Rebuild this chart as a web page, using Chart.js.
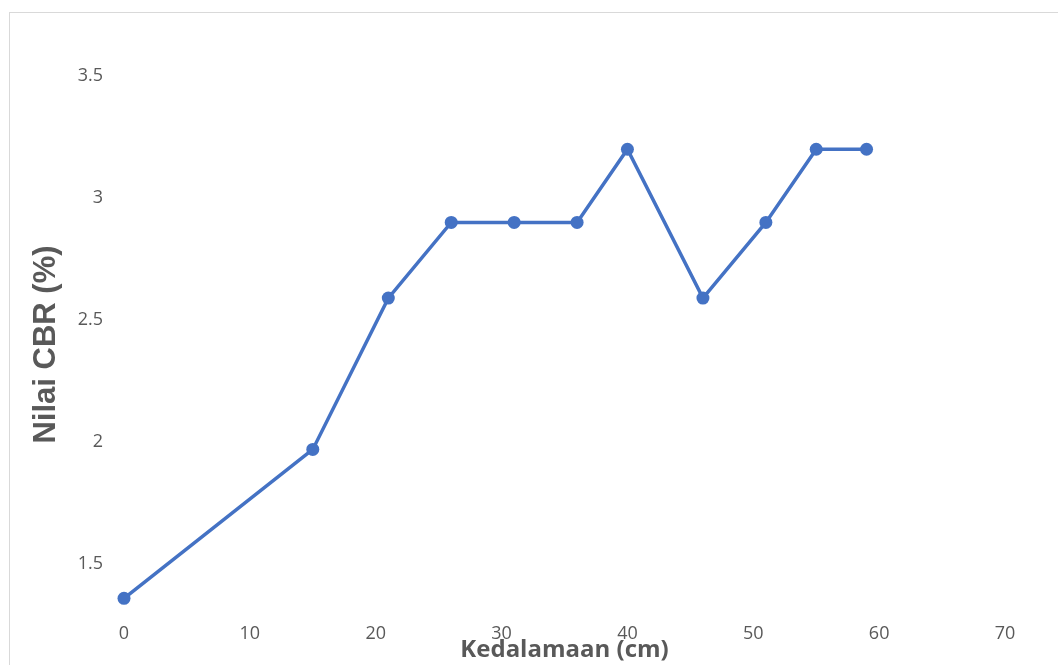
<!DOCTYPE html>
<html>
<head>
<meta charset="utf-8">
<title>Nilai CBR</title>
<script src="https://cdn.jsdelivr.net/npm/chart.js@4/dist/chart.umd.min.js"></script>
<style>
  html, body { margin: 0; padding: 0; background: #fff; }
  body { width: 1058px; height: 665px; overflow: hidden; position: relative; }
  .frame { position: absolute; left: 9px; top: 12px; width: 1100px; height: 700px; border: 1px solid #d9d9d9; }
  #cbrChart { position: absolute; left: 0; top: 0; }
</style>
</head>
<body>
<div class="frame"></div>
<canvas id="cbrChart" width="1058" height="665"></canvas>
<script>
// depth (cm) against CBR value (%)
const depths = [0, 15, 21, 26, 31, 36, 40, 46, 51, 55, 59];
const cbrValues = [1.36, 1.97, 2.59, 2.9, 2.9, 2.9, 3.2, 2.59, 2.9, 3.2, 3.2];
const yTicks = [1.5, 2, 2.5, 3, 3.5];

const BLUE = '#4472C4';
const TEXT = '#595959';

const points = depths.map((d, i) => ({ x: d, y: cbrValues[i] }));

new Chart(document.getElementById('cbrChart'), {
  type: 'line',
  data: {
    datasets: [{
      data: points,
      borderColor: BLUE,
      backgroundColor: BLUE,
      borderWidth: 3.5,
      pointRadius: 6.5,
      pointHoverRadius: 6.5,
      pointBorderWidth: 0,
      tension: 0,
      clip: false
    }]
  },
  options: {
    responsive: false,
    animation: false,
    layout: { padding: { top: 76, right: 53, left: 0, bottom: 0 } },
    plugins: { legend: { display: false }, tooltip: { enabled: false } },
    scales: {
      x: {
        type: 'linear',
        min: 0,
        max: 70,
        grid: { display: false, drawTicks: false },
        border: { display: false },
        ticks: { stepSize: 10, padding: 10, color: TEXT, font: { family: 'Open Sans', size: 18 } },
        title: {
          display: true,
          text: 'Kedalamaan (cm)',
          color: TEXT,
          padding: 0,
          font: { family: 'Open Sans', size: 24, weight: 'bold' }
        },
        afterFit: s => { s.height = 52; }
      },
      y: {
        min: 1.3,
        max: 3.5,
        grid: { display: false, drawTicks: false },
        border: { display: false },
        afterBuildTicks: s => { s.ticks = yTicks.map(v => ({ value: v })); },
        ticks: {
          padding: 21,
          color: TEXT,
          font: { family: 'Open Sans', size: 18 },
          callback: v => String(v)
        },
        title: {
          display: true,
          text: 'Nilai CBR (%)',
          color: TEXT,
          padding: { top: 28, bottom: 0 },
          font: { family: 'Liberation Sans', size: 31, weight: 'bold' }
        },
        afterFit: s => { s.width = 124; }
      }
    }
  }
});
</script>
</body>
</html>
